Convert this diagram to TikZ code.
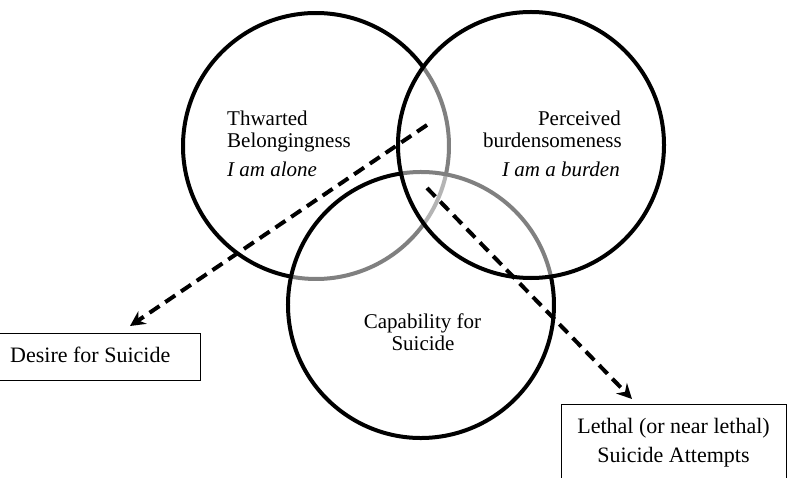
\documentclass[tikz,border=0pt]{standalone}
\usepackage{fontspec}
\setmainfont{Liberation Serif}
\usetikzlibrary{arrows.meta}
\definecolor{arcgray}{RGB}{128,128,128}
\definecolor{arclight}{RGB}{180,180,180}
\begin{document}
\begin{tikzpicture}[x=1pt,y=-1pt,
  ring/.style={line width=4pt,black},
  ringgray/.style={line width=4pt,arcgray},
  ringlight/.style={line width=4pt,arclight},
  holder/.style={circle,minimum size=266pt,inner sep=0pt},
  lbl/.style={inner sep=0pt,font=\fontsize{21}{24}\selectfont},
  boxlbl/.style={inner sep=0pt,font=\fontsize{22}{26}\selectfont},
  outbox/.style={draw,line width=1.3pt,inner sep=0pt},
  flow/.style={line width=4pt,dash pattern=on 12pt off 7pt,
    -{Stealth[length=15pt,width=15pt,inset=5pt]}}]
\useasboundingbox (0,0) rectangle (797,478);
\fill[white] (0,0) rectangle (797,478);
\clip (0,0) rectangle (797,478);
% circle holders
\node[holder] (L) at (316,146) {};
\node[holder] (R) at (531,145) {};
\node[holder] (B) at (421,305) {};
% grey arcs (parts inside other circles)
\draw[ringgray] (L.center) ++(100.8:133) arc[start angle=100.8,end angle=36.2,radius=133];
\draw[ringlight] (L.center) ++(36.2:133) arc[start angle=36.2,end angle=12.4,radius=133];
\draw[ringgray] (L.center) ++(12.4:133) arc[start angle=12.4,end angle=-36.2,radius=133];
\draw[ringgray] (B.center) ++(-12.4:133) arc[start angle=-12.4,end angle=-98.6,radius=133];
% black arcs
\draw[ring] (L.center) ++(-36.2:133) arc[start angle=-36.2,end angle=-259.2,radius=133];
\draw[ring] (B.center) ++(-98.6:133) arc[start angle=-98.6,end angle=-372.4,radius=133];
\draw[ring] (R.center) circle[radius=133];
% texts in circles
\node[lbl,anchor=base west] (t1) at (227,125.7) {Thwarted};
\node[lbl,anchor=base west] (t2) at (227,147.3) {Belongingness};
\node[lbl,anchor=base west] (t3) at (227,176.7) {\itshape I am alone};
\node[lbl,anchor=base east] (p1) at (621,125.7) {Perceived};
\node[lbl,anchor=base east] (p2) at (622,147.3) {burdensomeness};
\node[lbl,anchor=base east] (p3) at (620,176.7) {\itshape I am a burden};
\node[lbl,anchor=base] (c1) at (422.5,328) {Capability for};
\node[lbl,anchor=base] (c2) at (423,350) {Suicide};
% output boxes
\node[outbox,anchor=north west,minimum width=201pt,minimum height=47pt] (desire) at (-1,333) {};
\node[boxlbl,anchor=base west] (desiretxt) at (10,362) {Desire for Suicide};
\node[outbox,anchor=north west,minimum width=225pt,minimum height=90pt] (lethal) at (561,404) {};
\node[boxlbl,anchor=base] (lethal1) at (673.5,433) {Lethal (or near lethal)};
\node[boxlbl,anchor=base] (lethal2) at (673.5,462) {Suicide Attempts};
% arrows
\coordinate (a1s) at (427,125);
\coordinate (a1e) at (130,326);
\coordinate (a2s) at (427,188);
\coordinate (a2e) at (632,399);
\draw[flow] (a1s) -- (a1e);
\draw[flow] (a2s) -- (a2e);
\end{tikzpicture}
\end{document}
